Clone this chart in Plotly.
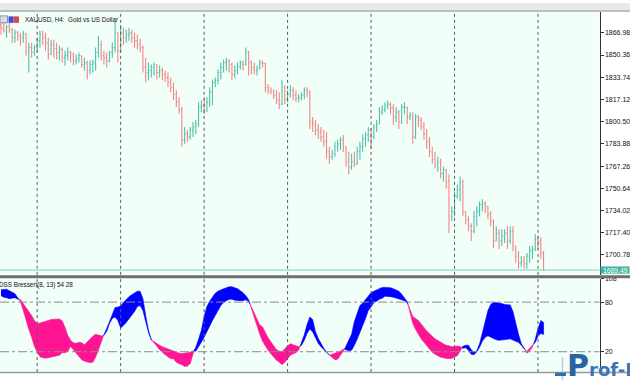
import plotly.graph_objects as go

W, H = 630, 380

# ---------------- data ----------------
bar_index = list(range(196))
week_start_bars = [13, 43, 73, 103, 133, 163, 193]

opens = [1872.9,
 1870.7, 1868.5, 1871.5, 1869.2, 1863.3, 1867.0, 1864.8, 1863.3, 1865.5, 1853.6,
 1855.9, 1852.2, 1855.9, 1861.1, 1865.5, 1863.3, 1859.6, 1850.7, 1858.1, 1855.1,
 1852.2, 1854.4, 1848.4, 1849.9, 1852.2, 1850.7, 1846.2, 1847.7, 1849.9, 1843.3,
 1844.7, 1838.8, 1843.3, 1844.7, 1852.2, 1858.1, 1849.9, 1848.4, 1846.2, 1852.2,
 1855.9, 1867.0, 1853.6, 1867.0, 1863.3, 1865.5, 1867.0, 1863.3, 1861.1, 1858.1,
 1855.9, 1841.0, 1837.3, 1838.8, 1841.0, 1843.3, 1837.3, 1838.8, 1835.8, 1833.6,
 1829.9, 1826.2, 1821.0, 1815.1, 1809.2, 1786.9, 1791.3, 1789.1, 1794.3, 1796.5,
 1798.7, 1811.4, 1812.8, 1809.2, 1815.1, 1822.5, 1829.9, 1831.4, 1837.3, 1841.0,
 1844.7, 1846.2, 1843.3, 1835.8, 1838.8, 1841.8, 1844.7, 1843.3, 1852.2, 1844.7,
 1841.0, 1838.8, 1840.3, 1844.7, 1844.0, 1826.2, 1824.0, 1822.5, 1820.3, 1816.6,
 1813.6, 1826.2, 1817.3, 1821.0, 1824.0, 1820.3, 1818.0, 1818.8, 1820.3, 1824.0,
 1822.5, 1800.2, 1798.7, 1794.3, 1792.8, 1789.1, 1785.4, 1778.0, 1774.3, 1776.5,
 1781.7, 1783.9, 1786.9, 1781.7, 1770.5, 1766.8, 1770.5, 1769.0, 1778.0, 1781.7,
 1787.6, 1790.6, 1794.3, 1789.1, 1796.5, 1798.7, 1807.6, 1809.9, 1812.8, 1813.6,
 1810.6, 1803.9, 1807.6, 1800.2, 1811.4, 1811.4, 1803.9, 1805.4, 1789.1, 1803.9,
 1801.7, 1796.5, 1791.3, 1785.4, 1778.0, 1772.0, 1769.0, 1770.5, 1761.6, 1764.6,
 1755.7, 1729.7, 1733.4, 1744.6, 1749.8, 1755.7, 1733.4, 1727.5, 1722.3, 1718.6,
 1729.7, 1733.4, 1738.7, 1739.4, 1737.2, 1731.2, 1726.0, 1711.2, 1717.1, 1711.2,
 1714.9, 1717.1, 1711.2, 1718.6, 1707.5, 1700.0, 1694.9, 1696.3, 1694.1, 1700.0,
 1703.8, 1705.2, 1712.7, 1711.2, 1702.3]

highs = [1874.4, 1875.9, 1872.9, 1874.4, 1870.7, 1869.2, 1868.5, 1867.0, 1868.5, 1867.0,
 1859.6, 1859.6, 1858.1, 1863.3, 1868.5, 1868.5, 1867.0, 1863.3, 1861.8, 1861.8,
 1859.6, 1857.4, 1855.9, 1853.6, 1855.9, 1853.6, 1852.2, 1850.7, 1852.2, 1849.9,
 1848.4, 1846.2, 1846.2, 1847.0, 1855.9, 1864.8, 1861.1, 1853.6, 1852.2, 1853.6,
 1859.6, 1875.9, 1867.0, 1872.9, 1870.7, 1869.2, 1870.7, 1869.2, 1867.0, 1865.5,
 1862.5, 1857.4, 1848.4, 1844.7, 1843.3, 1844.7, 1843.3, 1842.5, 1841.0, 1838.8,
 1837.3, 1833.6, 1829.9, 1824.0, 1818.8, 1811.4, 1796.5, 1794.3, 1796.5, 1800.2,
 1801.7, 1815.1, 1816.6, 1818.8, 1818.8, 1826.2, 1832.1, 1833.6, 1839.6, 1844.7,
 1847.0, 1848.4, 1847.0, 1844.7, 1842.5, 1844.7, 1846.2, 1846.2, 1855.9, 1853.6,
 1846.2, 1844.7, 1842.5, 1847.0, 1846.2, 1844.7, 1828.4, 1826.2, 1824.7, 1824.0,
 1822.5, 1831.4, 1827.7, 1824.0, 1827.7, 1826.2, 1824.0, 1821.0, 1822.5, 1826.2,
 1826.2, 1824.0, 1803.9, 1801.7, 1798.7, 1796.5, 1794.3, 1792.8, 1781.7, 1779.4,
 1785.4, 1786.9, 1789.1, 1790.6, 1781.7, 1778.0, 1776.5, 1778.0, 1781.7, 1785.4,
 1791.3, 1792.8, 1796.5, 1795.8, 1798.7, 1801.7, 1811.4, 1812.8, 1815.1, 1816.6,
 1815.1, 1813.6, 1811.4, 1809.2, 1813.6, 1815.1, 1811.4, 1807.6, 1807.6, 1806.2,
 1805.4, 1803.9, 1800.2, 1795.0, 1789.1, 1781.7, 1778.0, 1774.3, 1772.8, 1766.8,
 1764.6, 1760.9, 1737.2, 1748.3, 1753.4, 1759.4, 1757.2, 1733.4, 1729.7, 1724.5,
 1733.4, 1737.2, 1740.9, 1742.4, 1740.9, 1737.2, 1733.4, 1727.5, 1722.3, 1720.1,
 1720.1, 1720.1, 1722.3, 1722.3, 1722.3, 1707.5, 1703.8, 1700.0, 1700.0, 1702.3,
 1707.5, 1707.5, 1716.4, 1714.9, 1714.1, 1703.8]

lows = [1865.5, 1867.0, 1863.3, 1867.0, 1859.6, 1859.6, 1861.1, 1857.4, 1859.6, 1849.9,
 1837.3, 1848.4, 1849.9, 1852.2, 1855.9, 1858.1, 1853.6, 1847.0, 1850.7, 1848.4,
 1847.0, 1846.2, 1844.7, 1842.5, 1846.2, 1844.7, 1842.5, 1843.3, 1844.7, 1841.0,
 1838.8, 1832.1, 1835.8, 1837.3, 1838.8, 1848.4, 1846.2, 1843.3, 1841.0, 1844.7,
 1848.4, 1852.2, 1844.7, 1852.2, 1858.1, 1859.6, 1861.1, 1859.6, 1855.9, 1854.4,
 1852.2, 1837.3, 1829.9, 1831.4, 1833.6, 1835.1, 1832.1, 1833.6, 1831.4, 1829.9,
 1826.2, 1822.5, 1816.6, 1811.4, 1806.2, 1781.7, 1783.9, 1785.4, 1786.9, 1789.1,
 1791.3, 1796.5, 1807.6, 1806.2, 1807.6, 1811.4, 1812.8, 1826.2, 1828.4, 1832.1,
 1837.3, 1838.8, 1837.3, 1831.4, 1832.9, 1835.8, 1839.6, 1838.8, 1842.5, 1835.1,
 1835.8, 1835.8, 1835.1, 1839.6, 1841.0, 1822.5, 1821.0, 1821.0, 1817.3, 1813.6,
 1809.9, 1812.8, 1813.6, 1815.1, 1818.8, 1816.6, 1815.1, 1815.1, 1816.6, 1817.3,
 1818.8, 1795.0, 1792.8, 1790.6, 1787.6, 1785.4, 1781.7, 1772.8, 1769.0, 1772.0,
 1774.3, 1778.0, 1779.4, 1778.0, 1766.8, 1760.9, 1764.6, 1766.8, 1768.3, 1772.0,
 1778.0, 1781.7, 1785.4, 1780.2, 1787.6, 1792.8, 1798.7, 1805.4, 1807.6, 1809.9,
 1806.2, 1798.0, 1800.2, 1795.0, 1798.7, 1806.2, 1798.7, 1801.7, 1783.9, 1787.6,
 1796.5, 1794.3, 1786.9, 1780.2, 1774.3, 1769.0, 1765.4, 1763.1, 1757.9, 1755.7,
 1750.5, 1717.1, 1726.0, 1729.7, 1743.1, 1740.9, 1729.7, 1723.8, 1718.6, 1711.2,
 1717.1, 1722.3, 1729.7, 1733.4, 1731.9, 1727.5, 1722.3, 1706.0, 1711.2, 1705.2,
 1707.5, 1709.7, 1705.2, 1709.0, 1703.8, 1694.9, 1690.4, 1691.9, 1690.4, 1690.4,
 1694.9, 1697.8, 1703.8, 1705.2, 1697.8, 1688.9]

closes = [1870.7, 1868.5, 1871.5, 1869.2, 1863.3, 1867.0, 1864.8, 1863.3, 1865.5, 1853.6,
 1855.9, 1852.2, 1855.9, 1861.1, 1865.5, 1863.3, 1859.6, 1850.7, 1858.1, 1855.1,
 1852.2, 1854.4, 1848.4, 1849.9, 1852.2, 1850.7, 1846.2, 1847.7, 1849.9, 1843.3,
 1844.7, 1838.8, 1843.3, 1844.7, 1852.2, 1858.1, 1849.9, 1848.4, 1846.2, 1852.2,
 1855.9, 1867.0, 1853.6, 1867.0, 1863.3, 1865.5, 1867.0, 1863.3, 1861.1, 1858.1,
 1855.9, 1841.0, 1837.3, 1838.8, 1841.0, 1843.3, 1837.3, 1838.8, 1835.8, 1833.6,
 1829.9, 1826.2, 1821.0, 1815.1, 1809.2, 1786.9, 1791.3, 1789.1, 1794.3, 1796.5,
 1798.7, 1811.4, 1812.8, 1809.2, 1815.1, 1822.5, 1829.9, 1831.4, 1837.3, 1841.0,
 1844.7, 1846.2, 1843.3, 1835.8, 1838.8, 1841.8, 1844.7, 1843.3, 1852.2, 1844.7,
 1841.0, 1838.8, 1840.3, 1844.7, 1844.0, 1826.2, 1824.0, 1822.5, 1820.3, 1816.6,
 1813.6, 1826.2, 1817.3, 1821.0, 1824.0, 1820.3, 1818.0, 1818.8, 1820.3, 1824.0,
 1822.5, 1800.2, 1798.7, 1794.3, 1792.8, 1789.1, 1785.4, 1778.0, 1774.3, 1776.5,
 1781.7, 1783.9, 1786.9, 1781.7, 1770.5, 1766.8, 1770.5, 1769.0, 1778.0, 1781.7,
 1787.6, 1790.6, 1794.3, 1789.1, 1796.5, 1798.7, 1807.6, 1809.9, 1812.8, 1813.6,
 1810.6, 1803.9, 1807.6, 1800.2, 1811.4, 1811.4, 1803.9, 1805.4, 1789.1, 1803.9,
 1801.7, 1796.5, 1791.3, 1785.4, 1778.0, 1772.0, 1769.0, 1770.5, 1761.6, 1764.6,
 1755.7, 1729.7, 1733.4, 1744.6, 1749.8, 1755.7, 1733.4, 1727.5, 1722.3, 1718.6,
 1729.7, 1733.4, 1738.7, 1739.4, 1737.2, 1731.2, 1726.0, 1711.2, 1717.1, 1711.2,
 1714.9, 1717.1, 1711.2, 1718.6, 1707.5, 1700.0, 1694.9, 1696.3, 1694.1, 1700.0,
 1703.8, 1705.2, 1712.7, 1711.2, 1702.3, 1689.49]

dss_main = [95.0, 95.6, 95.6, 93.8, 92.0, 90.2, 85.4, 80.0, 69.8, 57.8,
 47.0, 37.4, 26.6, 19.4, 14.0, 12.8, 12.2, 12.8, 13.4, 14.0,
 15.2, 15.8, 18.8, 18.8, 20.6, 26.6, 22.4, 18.2, 13.4, 10.4,
 8.6, 7.4, 6.8, 7.4, 13.4, 21.8, 31.4, 41.0, 48.2, 56.6,
 66.2, 73.4, 74.0, 75.2, 79.4, 83.6, 86.6, 89.0, 90.8, 93.2,
 93.2, 84.2, 63.8, 45.8, 35.0, 30.2, 26.6, 22.4, 18.8, 16.4,
 14.0, 11.6, 11.6, 7.4, 5.6, 4.4, 2.0, 2.6, 5.6, 18.8,
 25.4, 35.0, 45.8, 62.6, 74.6, 81.2, 86.6, 90.8, 93.2, 95.0,
 96.2, 97.4, 98.6, 98.6, 97.4, 96.2, 93.8, 91.4, 87.8, 83.0,
 72.2, 59.6, 50.0, 41.0, 32.6, 26.6, 21.8, 17.6, 13.4, 9.8,
 7.4, 4.4, 7.4, 11.6, 15.8, 17.6, 18.8, 22.4, 31.4, 40.4,
 53.0, 62.0, 59.0, 44.6, 36.2, 29.6, 24.2, 19.4, 16.0, 12.8,
 10.4, 11.0, 15.8, 20.0, 26.6, 33.2, 41.0, 56.6, 66.2, 75.8,
 78.8, 83.0, 87.2, 91.4, 93.2, 95.0, 96.2, 97.8, 97.8, 97.8,
 97.4, 96.2, 95.0, 93.2, 89.6, 84.8, 80.6, 67.4, 54.2, 47.0,
 41.0, 35.6, 31.4, 27.2, 23.0, 19.4, 17.0, 15.2, 13.4, 12.8,
 11.8, 11.8, 11.8, 14.0, 15.2, 20.6, 26.6, 27.8, 27.8, 22.4,
 19.4, 21.2, 29.6, 42.8, 57.8, 69.8, 77.0, 79.8, 79.4, 79.0,
 78.2, 77.0, 76.6, 76.6, 68.6, 54.2, 41.0, 29.6, 24.8, 18.2,
 21.2, 25.4, 35.0, 48.2, 57.8, 55.4]

dss_signal = [87.8, 86.0, 85.4, 84.2, 84.8, 85.4, 83.6, 83.0, 78.2, 73.4,
 68.6, 63.8, 57.8, 54.2, 54.8, 55.4, 56.6, 57.8, 59.0, 59.6,
 59.6, 59.6, 57.2, 49.4, 39.8, 33.8, 30.8, 30.2, 31.4, 30.8,
 28.4, 30.8, 35.0, 38.6, 41.0, 40.4, 39.2, 39.2, 44.6, 54.2,
 60.2, 62.0, 57.8, 48.8, 51.8, 55.4, 59.6, 63.8, 68.6, 74.6,
 75.8, 69.8, 57.8, 43.4, 34.4, 32.0, 29.8, 27.8, 26.0, 24.8,
 23.0, 21.8, 20.6, 19.4, 18.2, 17.8, 18.2, 18.8, 19.4, 21.2,
 20.6, 25.4, 31.4, 37.4, 44.6, 50.6, 57.8, 63.8, 70.4, 75.8,
 79.4, 81.8, 83.6, 83.6, 82.4, 81.8, 81.8, 81.8, 83.0, 80.6,
 74.6, 65.6, 59.6, 52.4, 50.0, 43.4, 36.8, 31.4, 27.2, 22.4,
 20.6, 20.0, 23.6, 27.2, 29.6, 28.4, 27.2, 26.0, 27.8, 33.8,
 42.2, 47.6, 44.0, 36.8, 30.2, 26.0, 22.4, 18.2, 15.6, 17.0,
 17.8, 19.4, 20.6, 23.0, 23.0, 21.2, 21.8, 27.8, 35.0, 43.4,
 51.2, 60.2, 69.8, 74.0, 79.4, 81.2, 83.6, 84.8, 87.2, 87.2,
 86.6, 86.0, 84.8, 84.2, 83.0, 81.8, 79.4, 71.0, 62.6, 60.2,
 57.8, 54.2, 49.4, 45.2, 41.6, 38.6, 35.6, 33.2, 31.4, 29.6,
 27.8, 27.2, 26.0, 26.2, 26.8, 26.2, 24.2, 24.8, 21.8, 17.0,
 16.4, 20.0, 25.4, 32.6, 37.4, 39.2, 38.0, 36.2, 34.4, 33.8,
 33.8, 34.4, 35.0, 35.6, 34.4, 32.6, 31.4, 27.8, 23.6, 20.6,
 23.6, 27.8, 31.4, 38.6, 42.2, 40.8]

price_ticks = [1866.98, 1850.36, 1833.74, 1817.12, 1800.50, 1783.88,
               1767.26, 1750.64, 1734.02, 1717.40, 1700.78]
ind_ticks = [108, 80, 20]
ind_levels = [80, 20]
last_price = 1689.49
chart_title = "XAUUSD, H4:  Gold vs US Dollar"
ind_title = "DSS Bressert(8, 13) 54 28"
watermark = "Prof-F"

# ---------------- styling ----------------
BG = "#F2FFF8"
BULL = "#4EBFAC"
BEAR = "#F08585"
BLUE = "#0000FF"
PINK = "#FF1493"
TEAL = "#3DB5A0"
FONT = "Liberation Sans"

def px(x):
    return x / W

def py(y):
    return 1 - y / H

X_RIGHT = 599.5
TOP_Y0, TOP_Y1 = 9, 274
BOT_Y0, BOT_Y1 = 278, 372
P_LO, P_HI = 1685.9, 1882.6

fig = go.Figure()

fig.add_trace(go.Ohlc(
    x=bar_index, open=opens, high=highs, low=lows, close=closes,
    increasing=dict(line=dict(color=BULL, width=1.1)),
    decreasing=dict(line=dict(color=BEAR, width=1.1)),
    tickwidth=0.35, xaxis="x", yaxis="y", hoverinfo="skip", showlegend=False))

# coloured band between the two DSS lines, split where they cross
def add_band(xs, a, b):
    seg_x, seg_a, seg_b = [xs[0]], [a[0]], [b[0]]
    up = a[0] >= b[0]
    segs = []
    for i in range(1, len(xs)):
        s = a[i] >= b[i]
        if s != up:
            d0 = a[i - 1] - b[i - 1]
            d1 = a[i] - b[i]
            t = d0 / (d0 - d1)
            xc = xs[i - 1] + t * (xs[i] - xs[i - 1])
            yc = a[i - 1] + t * (a[i] - a[i - 1])
            seg_x.append(xc); seg_a.append(yc); seg_b.append(yc)
            segs.append((up, seg_x, seg_a, seg_b))
            seg_x, seg_a, seg_b = [xc], [yc], [yc]
            up = s
        seg_x.append(xs[i]); seg_a.append(a[i]); seg_b.append(b[i])
    segs.append((up, seg_x, seg_a, seg_b))
    for up, sx, sa, sb in segs:
        col = BLUE if up else PINK
        fig.add_trace(go.Scatter(
            x=sx + sx[::-1], y=sa + sb[::-1], mode="lines",
            fill="toself", fillcolor=col, line=dict(color=col, width=0.6),
            xaxis="x2", yaxis="y2", hoverinfo="skip", showlegend=False))

add_band(bar_index, dss_main, dss_signal)

shapes = []
shapes.append(dict(type="rect", xref="paper", yref="paper", x0=0, x1=1,
                   y0=py(7), y1=1, fillcolor="#E9E9E9", line=dict(width=0), layer="below"))
shapes.append(dict(type="line", xref="paper", yref="paper", x0=0, x1=1,
                   y0=py(8), y1=py(8), line=dict(color="#A8A8A8", width=1.5)))
shapes.append(dict(type="rect", xref="paper", yref="paper", x0=0, x1=1,
                   y0=py(277.5), y1=py(274.5), fillcolor="#6E6E6E", line=dict(width=0)))
shapes.append(dict(type="line", xref="paper", yref="paper", x0=0, x1=1,
                   y0=py(372.5), y1=py(372.5), line=dict(color="#9A9A9A", width=1.5)))

for b in week_start_bars:
    for yr in ("y domain", "y2 domain"):
        shapes.append(dict(type="line", xref="x", yref=yr, x0=b, x1=b, y0=0, y1=1,
                           line=dict(color="#5A5A5A", width=1, dash="dot")))

for lv in ind_levels:
    shapes.append(dict(type="line", xref="x2 domain", yref="y2", x0=0, x1=1, y0=lv, y1=lv,
                       line=dict(color="#8C8C8C", width=1, dash="dashdot")))

shapes.append(dict(type="line", xref="x domain", yref="y", x0=0, x1=1,
                   y0=last_price, y1=last_price, line=dict(color="#7ACFC0", width=1)))
ly = TOP_Y1 - (last_price - P_LO) / (P_HI - P_LO) * (TOP_Y1 - TOP_Y0)
shapes.append(dict(type="rect", xref="paper", yref="paper", x0=px(600.5), x1=px(629.5),
                   y0=py(ly + 3.6), y1=py(ly - 3.6), fillcolor=TEAL, line=dict(width=0)))

shapes.append(dict(type="rect", xref="paper", yref="paper", x0=px(0), x1=px(7.5),
                   y0=py(20), y1=py(13), fillcolor="#DADDE8", line=dict(color="#8A8FA8", width=1)))
shapes.append(dict(type="rect", xref="paper", yref="paper", x0=px(8.5), x1=px(13.5),
                   y0=py(20), y1=py(13.5), fillcolor="#3A4FD8", line=dict(width=0)))
shapes.append(dict(type="rect", xref="paper", yref="paper", x0=px(13.5), x1=px(19),
                   y0=py(20), y1=py(13.5), fillcolor="#D84A50", line=dict(width=0)))

shapes.append(dict(type="line", xref="paper", yref="paper", x0=px(562.5), x1=px(562.5),
                   y0=py(380), y1=py(357), line=dict(color="#B5CDE6", width=1.5)))
shapes.append(dict(type="rect", xref="paper", yref="paper", x0=px(555), x1=px(566),
                   y0=py(376), y1=py(372.5), fillcolor="#2E6FB0", line=dict(width=0)))

annotations = [
    dict(text=chart_title, xref="paper", yref="paper", x=px(23), y=py(16.5),
         xanchor="left", yanchor="middle", showarrow=False,
         font=dict(family=FONT, size=6.3, color="#111111")),
    dict(text=ind_title, xref="paper", yref="paper", x=px(-3.5), y=py(284.5),
         xanchor="left", yanchor="middle", showarrow=False,
         font=dict(family=FONT, size=6.3, color="#111111")),
    dict(text="%.2f" % last_price, xref="paper", yref="paper", x=px(615), y=py(ly),
         xanchor="center", yanchor="middle", showarrow=False,
         font=dict(family=FONT, size=6.8, color="#FFFFFF")),
    dict(text="<b><span style='font-size:30px;fill:#2B64A0'>" + watermark[0] + "</span>"
              + watermark[1:] + "</b>",
         xref="paper", yref="paper", x=px(565), y=py(385), xanchor="left", yanchor="bottom",
         showarrow=False, font=dict(family="DejaVu Sans", size=18, color="#3A78B5")),
]

fig.update_layout(
    width=W, height=H,
    margin=dict(l=0, r=0, t=0, b=0),
    paper_bgcolor="#FFFFFF",
    plot_bgcolor=BG,
    showlegend=False,
    shapes=shapes,
    annotations=annotations,
    xaxis=dict(domain=[0, px(X_RIGHT)], range=[-0.36, 215.1], anchor="y",
               showgrid=False, zeroline=False, showticklabels=False, ticks="",
               rangeslider=dict(visible=False), showline=False, fixedrange=True),
    yaxis=dict(domain=[py(TOP_Y1), py(TOP_Y0)], range=[P_LO, P_HI], anchor="x",
               side="right", showgrid=False, zeroline=False,
               tickvals=price_ticks, ticktext=["%.2f" % v for v in price_ticks],
               ticks="outside", ticklen=3, tickcolor="#333333",
               showline=True, linecolor="#333333", linewidth=1,
               tickfont=dict(family=FONT, size=7, color="#111111")),
    xaxis2=dict(domain=[0, px(X_RIGHT)], range=[-0.36, 215.1], anchor="y2",
                showgrid=False, zeroline=False, showticklabels=False, ticks="",
                showline=False),
    yaxis2=dict(domain=[py(BOT_Y1), py(BOT_Y0)], range=[-4.6, 108.2], anchor="x2",
                side="right", showgrid=False, zeroline=False,
                tickvals=ind_ticks, ticktext=[str(v) for v in ind_ticks],
                ticks="outside", ticklen=3, tickcolor="#333333",
                showline=True, linecolor="#333333", linewidth=1,
                tickfont=dict(family=FONT, size=7, color="#111111")),
)

fig.write_html("out.html", config={"displayModeBar": False},
               post_script="document.body.style.margin='0px';document.body.style.overflow='hidden';")
